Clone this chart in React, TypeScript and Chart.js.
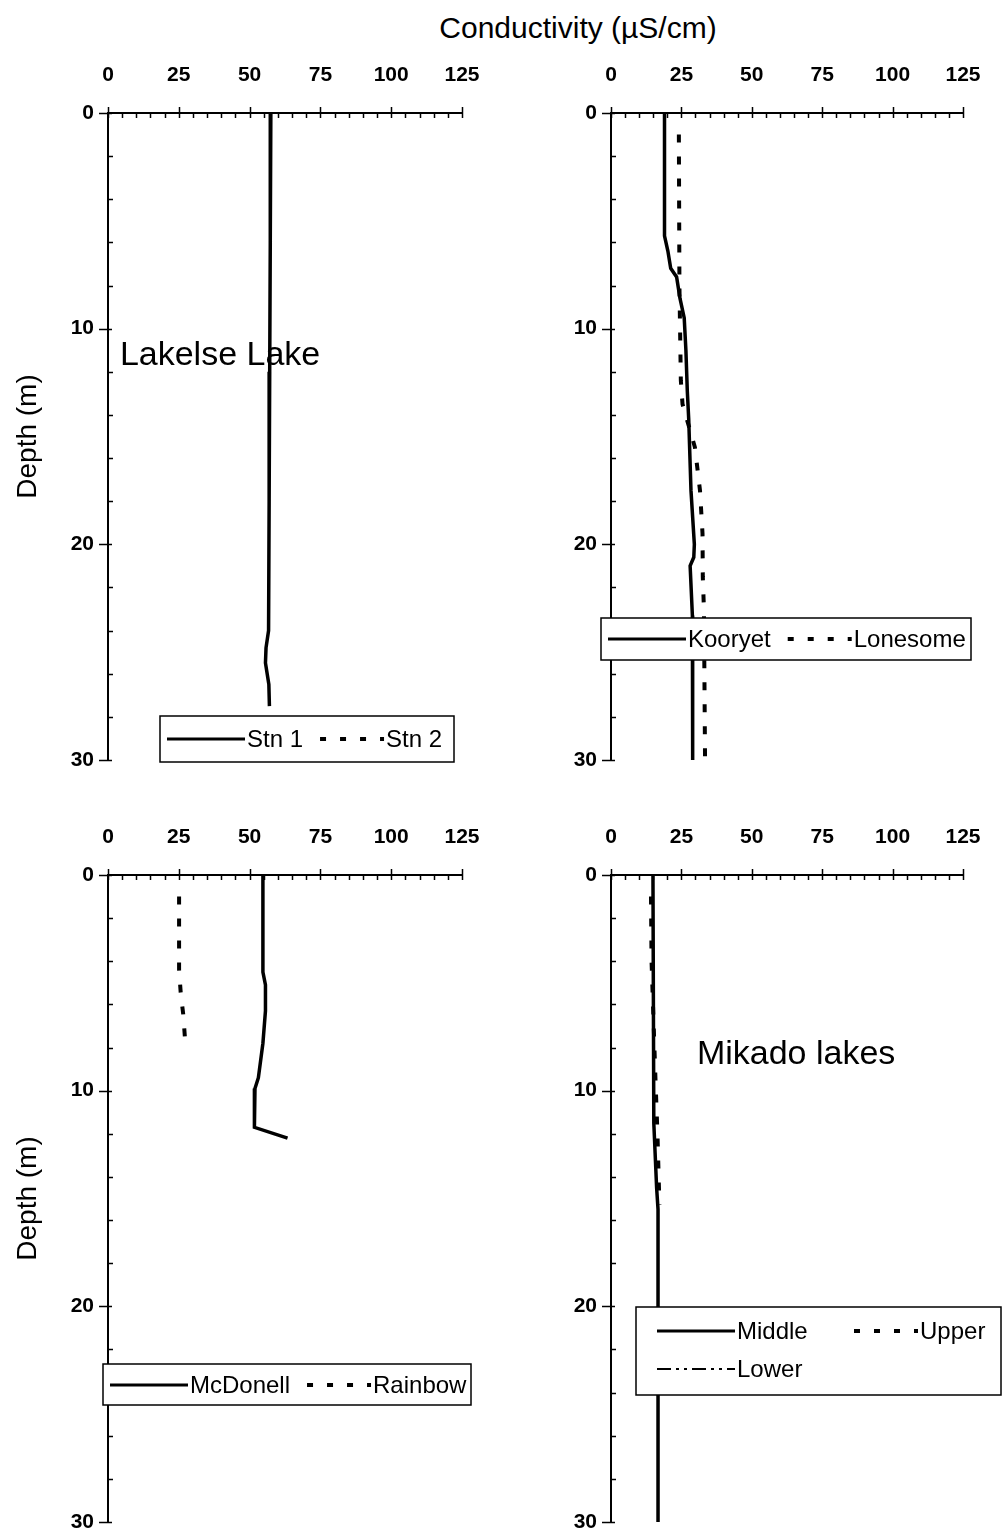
import { useEffect, useRef } from 'react';
import { Chart, registerables } from 'chart.js';

Chart.register(...registerables);

// Shared axes: conductivity (µS/cm) across the top, depth (m) down the side
const conductivityTicks = [0, 25, 50, 75, 100, 125];
const depthTicks = [0, 10, 20, 30];
const conductivityMinorStep = 5;
const depthMinorStep = 2;

// Lakelse Lake
const stn1Depth = [0, 6, 12, 18, 24, 24.8, 25.5, 26.5, 27.5];
const stn1Cond = [57.5, 57.3, 57.1, 56.9, 56.7, 55.8, 55.6, 56.8, 57.0];
const stn2Depth: number[] = [];
const stn2Cond: number[] = [];

// Kooryet and Lonesome
const kooryetDepth = [0, 5.7, 6.4, 7.2, 7.6, 8.6, 9.5, 11, 12.9, 14.2, 17.5, 20, 20.6, 21, 23.3, 30];
const kooryetCond = [19, 19, 20.2, 21.2, 23.3, 24.5, 26, 26.6, 27.1, 27.6, 28.4, 29.6, 29.4, 28.1, 28.9, 29];
const lonesomeDepth = [1, 8, 12.4, 13.5, 15.5, 17.5, 19.5, 21.5, 23, 30];
const lonesomeCond = [24.1, 24.3, 24.8, 25.4, 29.8, 31.6, 32.5, 32.6, 33, 33.4];

// McDonell and Rainbow
const mcdonellDepth = [0, 4.5, 5.1, 6.3, 7.8, 9.4, 9.9, 11.7, 12.2];
const mcdonellCond = [54.7, 54.7, 55.6, 55.6, 54.7, 53.1, 51.9, 51.7, 63.4];
const rainbowDepth = [1, 4.4, 5.5, 6.5, 7.8];
const rainbowCond = [25.1, 25.1, 25.7, 26.6, 27.3];

// Mikado lakes
const middleDepth = [0, 11.5, 14.5, 15.5, 30];
const middleCond = [14.9, 15.2, 16.2, 16.7, 16.7];
const upperDepth = [1, 4, 9.5, 12, 15.3];
const upperCond = [14.2, 14.4, 15.8, 16.5, 17.2];
const lowerDepth: number[] = [];
const lowerCond: number[] = [];

const FONT = '"Liberation Sans", Arial, sans-serif';
const SAMPLE = 78;

type LineStyle = {
  width: number;
  dash: number[];
  legendWidth: number;
  legendDash: number[];
  legendOffset: number;
};

const solid: LineStyle = { width: 3.5, dash: [], legendWidth: 3, legendDash: [], legendOffset: 0 };
const dashed: LineStyle = { width: 4, dash: [8, 14], legendWidth: 4, legendDash: [6, 14], legendOffset: 6 };
const dashDot: LineStyle = { width: 2, dash: [14, 5, 3, 5, 3, 5], legendWidth: 2, legendDash: [14, 5, 3, 5, 3, 5], legendOffset: 0 };

type Series = { label: string; depth: number[]; cond: number[]; style: LineStyle };
type LegendSpec = { x: number; y: number; w: number; h: number; rows: number[]; cols?: number[] };
type Note = { text: string; cond: number; depth: number };
type Area = { left: number; top: number; right: number; bottom: number };
type PanelSpec = {
  left: number;
  top: number;
  width: number;
  height: number;
  area: Area;
  yTitle: boolean;
  series: Series[];
  legend: LegendSpec;
  note?: Note;
};

const panels: PanelSpec[] = [
  {
    left: 0, top: 40, width: 500, height: 735,
    area: { left: 108, top: 73, right: 462, bottom: 720 },
    yTitle: true,
    series: [
      { label: 'Stn 1', depth: stn1Depth, cond: stn1Cond, style: solid },
      { label: 'Stn 2', depth: stn2Depth, cond: stn2Cond, style: dashed },
    ],
    legend: { x: 52, y: 603, w: 294, h: 46, rows: [23] },
    note: { text: 'Lakelse Lake', cond: 4.2, depth: 11.25 },
  },
  {
    left: 500, top: 40, width: 503, height: 735,
    area: { left: 111, top: 73, right: 463, bottom: 720 },
    yTitle: false,
    series: [
      { label: 'Kooryet', depth: kooryetDepth, cond: kooryetCond, style: solid },
      { label: 'Lonesome', depth: lonesomeDepth, cond: lonesomeCond, style: dashed },
    ],
    legend: { x: -10, y: 505, w: 370, h: 42, rows: [21] },
  },
  {
    left: 0, top: 802, width: 500, height: 734,
    area: { left: 108, top: 73, right: 462, bottom: 720 },
    yTitle: true,
    series: [
      { label: 'McDonell', depth: mcdonellDepth, cond: mcdonellCond, style: solid },
      { label: 'Rainbow', depth: rainbowDepth, cond: rainbowCond, style: dashed },
    ],
    legend: { x: -5, y: 489, w: 368, h: 41, rows: [21] },
  },
  {
    left: 500, top: 802, width: 503, height: 734,
    area: { left: 111, top: 73, right: 463, bottom: 720 },
    yTitle: false,
    series: [
      { label: 'Middle', depth: middleDepth, cond: middleCond, style: solid },
      { label: 'Upper', depth: upperDepth, cond: upperCond, style: dashed },
      { label: 'Lower', depth: lowerDepth, cond: lowerCond, style: dashDot },
    ],
    legend: { x: 25, y: 432, w: 365, h: 88, rows: [24, 62], cols: [21, 204] },
    note: { text: 'Mikado lakes', cond: 30.5, depth: 8.35 },
  },
];

function drawTickMarks(chart: Chart) {
  const { ctx, chartArea } = chart;
  const xs = chart.scales.x;
  const ys = chart.scales.y;
  ctx.save();
  ctx.strokeStyle = '#000';
  ctx.lineWidth = 1.5;
  ctx.setLineDash([]);
  ctx.beginPath();
  const cMax = conductivityTicks[conductivityTicks.length - 1];
  for (let v = conductivityTicks[0]; v <= cMax; v += conductivityMinorStep) {
    const px = Math.round(xs.getPixelForValue(v)) + 0.5;
    const major = conductivityTicks.includes(v);
    ctx.moveTo(px, chartArea.top - (major ? 6 : 0));
    ctx.lineTo(px, chartArea.top + 5);
  }
  const dMax = depthTicks[depthTicks.length - 1];
  for (let d = depthTicks[0]; d <= dMax; d += depthMinorStep) {
    const py = Math.round(ys.getPixelForValue(d)) + 0.5;
    const major = depthTicks.includes(d);
    ctx.moveTo(chartArea.left - (major ? 9 : 0), py);
    ctx.lineTo(chartArea.left + (major ? 4 : 5), py);
  }
  ctx.stroke();
  ctx.restore();
}

function drawLegend(chart: Chart, spec: LegendSpec, series: Series[]) {
  const { ctx, chartArea } = chart;
  const bx = chartArea.left + spec.x;
  const by = chartArea.top + spec.y;
  ctx.save();
  ctx.fillStyle = '#fff';
  ctx.fillRect(bx, by, spec.w, spec.h);
  ctx.strokeStyle = '#000';
  ctx.lineWidth = 1.5;
  ctx.setLineDash([]);
  ctx.strokeRect(bx, by, spec.w, spec.h);
  ctx.font = `24px ${FONT}`;
  ctx.textBaseline = 'middle';
  ctx.textAlign = 'left';
  let flowX = bx + 7;
  series.forEach((s, i) => {
    let x0: number;
    let y0: number;
    if (spec.cols) {
      const n = spec.cols.length;
      x0 = bx + spec.cols[i % n];
      y0 = by + spec.rows[Math.floor(i / n)];
    } else {
      x0 = flowX;
      y0 = by + spec.rows[0];
    }
    ctx.beginPath();
    ctx.lineWidth = s.style.legendWidth;
    ctx.setLineDash(s.style.legendDash);
    ctx.lineDashOffset = s.style.legendOffset;
    ctx.moveTo(x0, y0);
    ctx.lineTo(x0 + SAMPLE, y0);
    ctx.stroke();
    ctx.setLineDash([]);
    ctx.fillStyle = '#000';
    ctx.fillText(s.label, x0 + SAMPLE + 2, y0 + 1);
    flowX = x0 + SAMPLE + 2 + ctx.measureText(s.label).width + 3;
  });
  ctx.restore();
}

function ProfilePanel({ spec }: { spec: PanelSpec }) {
  const ref = useRef<HTMLCanvasElement>(null);

  useEffect(() => {
    const canvas = ref.current;
    if (!canvas) return;
    const { area } = spec;

    const decor = {
      id: 'profileDecor',
      beforeDatasetsDraw(chart: Chart) {
        if (!spec.note) return;
        const { ctx } = chart;
        ctx.save();
        ctx.fillStyle = '#000';
        ctx.font = `34px ${FONT}`;
        ctx.textBaseline = 'middle';
        ctx.textAlign = 'left';
        ctx.fillText(
          spec.note.text,
          chart.scales.x.getPixelForValue(spec.note.cond),
          chart.scales.y.getPixelForValue(spec.note.depth),
        );
        ctx.restore();
      },
      afterDraw(chart: Chart) {
        drawTickMarks(chart);
        drawLegend(chart, spec.legend, spec.series);
      },
    };

    const tickFont = { family: FONT, size: 21, weight: 'bold' as const };

    const chart = new Chart(canvas, {
      type: 'line',
      data: {
        datasets: spec.series.map((s) => ({
          label: s.label,
          data: s.depth.map((d, i) => ({ x: s.cond[i], y: d })),
          borderColor: '#000',
          backgroundColor: '#000',
          borderWidth: s.style.width,
          borderDash: s.style.dash,
          pointRadius: 0,
          pointHoverRadius: 0,
          tension: 0,
          fill: false,
        })),
      },
      options: {
        animation: false,
        responsive: false,
        maintainAspectRatio: false,
        events: [],
        layout: {
          padding: {
            left: 0,
            top: 0,
            right: spec.width - area.right,
            bottom: spec.height - area.bottom,
          },
        },
        plugins: {
          legend: { display: false },
          title: { display: false },
          tooltip: { enabled: false },
        },
        scales: {
          x: {
            type: 'linear',
            position: 'top',
            min: conductivityTicks[0],
            max: conductivityTicks[conductivityTicks.length - 1],
            afterBuildTicks: (s: any) => {
              s.ticks = conductivityTicks.map((v) => ({ value: v }));
            },
            afterFit: (s: any) => {
              s.height = area.top;
              s.paddingLeft = 0;
              s.paddingRight = 0;
            },
            grid: { display: false, drawTicks: false },
            border: { display: true, color: '#000', width: 2 },
            ticks: { color: '#000', font: tickFont, padding: 25, autoSkip: false, maxRotation: 0 },
          },
          y: {
            type: 'linear',
            position: 'left',
            reverse: true,
            min: depthTicks[0],
            max: depthTicks[depthTicks.length - 1],
            afterBuildTicks: (s: any) => {
              s.ticks = depthTicks.map((v) => ({ value: v }));
            },
            afterFit: (s: any) => {
              s.width = area.left;
              s.paddingTop = 0;
              s.paddingBottom = 0;
            },
            grid: { display: false, drawTicks: false },
            border: { display: true, color: '#000', width: 2 },
            ticks: { color: '#000', font: tickFont, padding: 14, autoSkip: false },
            title: {
              display: spec.yTitle,
              text: 'Depth (m)',
              color: '#000',
              font: { family: FONT, size: 28 },
              padding: { top: 11, bottom: 0 },
            },
          },
        },
      },
      plugins: [decor],
    } as any);

    return () => chart.destroy();
  }, [spec]);

  return (
    <canvas
      ref={ref}
      width={spec.width}
      height={spec.height}
      style={{ position: 'absolute', left: spec.left, top: spec.top, width: spec.width, height: spec.height }}
    />
  );
}

export default function App() {
  return (
    <div style={{ position: 'absolute', left: 0, top: 0, width: 1003, height: 1536, background: '#fff', overflow: 'hidden' }}>
      <div
        style={{
          position: 'absolute',
          left: 578,
          top: 12,
          transform: 'translateX(-50%)',
          fontFamily: FONT,
          fontSize: 30,
          lineHeight: '32px',
          whiteSpace: 'nowrap',
          color: '#000',
        }}
      >
        Conductivity (µS/cm)
      </div>
      {panels.map((p, i) => (
        <ProfilePanel key={i} spec={p} />
      ))}
    </div>
  );
}
